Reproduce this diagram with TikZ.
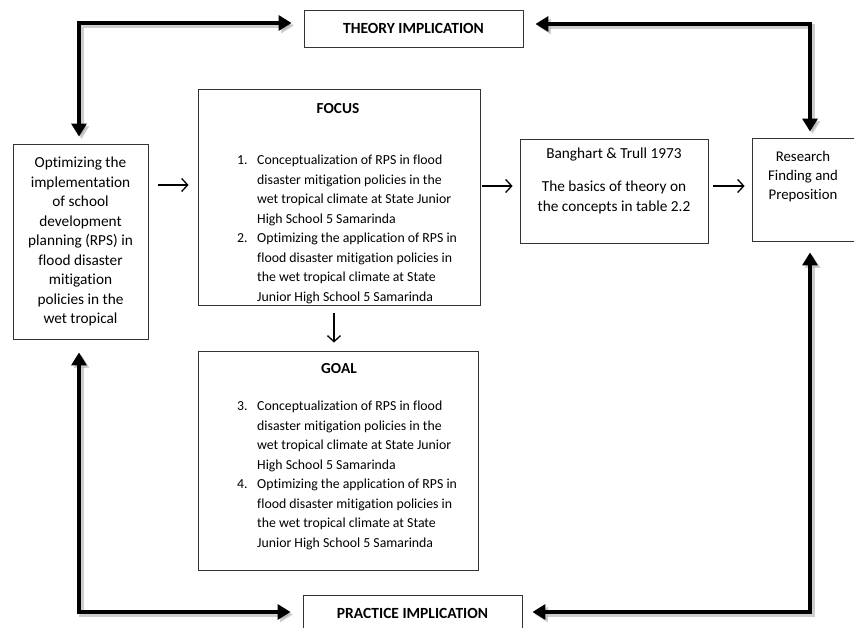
\documentclass[tikz,border=0pt]{standalone}
\usepackage{fontspec}
\setmainfont{Carlito}[Ligatures=NoCommon]
\usetikzlibrary{arrows.meta,calc}
\begin{document}
\begin{tikzpicture}[x=1pt,y=1pt,
  box/.style={draw=black!80,line width=0.9pt,inner sep=0pt,fill=white},
  txt/.style={inner sep=0pt,font=\fontsize{15.3}{19.5}\selectfont},
  list/.style={inner sep=0pt,font=\fontsize{13.8}{19.5}\selectfont},
  head/.style={inner sep=0pt,font=\fontsize{15.3}{19.5}\selectfont\bfseries},
  bigarrow/.style={line width=4pt,
    {Triangle[length=13pt,width=15pt]}-{Triangle[length=13pt,width=15pt]},
    preaction={draw=black!35,opacity=0.55,line width=5pt,
      transform canvas={shift={(2.5pt,-2.5pt)}}}},
  thinarrow/.style={line width=1.3pt,-{Straight Barb[length=6pt,width=13pt,line width=1.3pt]}}
]
\useasboundingbox (0,0) rectangle (854,628);
% boxes
\node[box,minimum width=219pt,minimum height=37pt] (theory) at (413.5,599.5) {};
\node[head,font=\fontsize{15.5}{18}\selectfont\bfseries] at (theory.center) {THEORY IMPLICATION};
\node[box,minimum width=135pt,minimum height=195pt] (left) at (80.5,386.5) {};
\node[box,minimum width=282pt,minimum height=216pt] (focus) at (339,431) {};
\node[box,minimum width=280pt,minimum height=219pt] (goal) at (338,167.5) {};
\node[box,minimum width=188pt,minimum height=104pt] (bang) at (614,437) {};
\node[box,minimum width=118pt,minimum height=103pt] (research) at (811,438.5) {};
\node[box,minimum width=219pt,minimum height=55pt] (practice) at (412.5,5.5) {};
\node[head,font=\fontsize{15.5}{18}\selectfont\bfseries] at (412.5,15) {PRACTICE IMPLICATION};
% texts
\node[txt,anchor=base] at (80.5,460) {\baselineskip=19.8pt\begin{tabular}[t]{@{}c@{}}
Optimizing the\\ implementation\\ of school\\ development\\ planning (RPS) in\\ flood disaster\\ mitigation\\ policies in the\\ wet tropical\end{tabular}};
\node[head,anchor=base] at (338,514) {FOCUS};
\node[list,anchor=base west] at (237,463) {\begin{tabular}[t]{@{}p{20pt}@{}l@{}}
1. & Conceptualization of RPS in flood\\
 & disaster mitigation policies in the\\
 & wet tropical climate at State Junior\\
 & High School 5 Samarinda\\
2. & Optimizing the application of RPS in\\
 & flood disaster mitigation policies in\\
 & the wet tropical climate at State\\
 & Junior High School 5 Samarinda\end{tabular}};
\node[head,anchor=base] at (339,254) {GOAL};
\node[list,anchor=base west] at (237,217) {\begin{tabular}[t]{@{}p{20pt}@{}l@{}}
3. & Conceptualization of RPS in flood\\
 & disaster mitigation policies in the\\
 & wet tropical climate at State Junior\\
 & High School 5 Samarinda\\
4. & Optimizing the application of RPS in\\
 & flood disaster mitigation policies in\\
 & the wet tropical climate at State\\
 & Junior High School 5 Samarinda\end{tabular}};
\node[txt,anchor=base] at (614,469) {\begin{tabular}[t]{@{}c@{}}
Banghart \& Trull 1973\\[13.5pt] The basics of theory on\\ the concepts in table 2.2\end{tabular}};
\node[txt,anchor=base,font=\fontsize{14.8}{19}\selectfont] at (803,466) {\begin{tabular}[t]{@{}c@{}}
Research\\ Finding and\\ Preposition\end{tabular}};
% thick connectors
\draw[bigarrow] ([xshift=-1.5pt,yshift=7pt]left.north) |- ([xshift=-12pt,yshift=5.5pt]theory.west);
\draw[bigarrow] ([xshift=12pt,yshift=4.5pt]theory.east) -| ([xshift=-1pt,yshift=6pt]research.north);
\draw[bigarrow] ([xshift=-1.5pt,yshift=-13pt]left.south) |- ([xshift=-12pt,yshift=10.5pt]practice.west);
\draw[bigarrow] ([xshift=-1pt,yshift=-11pt]research.south) |- ([xshift=10pt,yshift=10.5pt]practice.east);
% thin connectors
\draw[thinarrow,shorten <=10pt,shorten >=9pt] (left.east |- 0,443) -- (focus.west |- 0,443);
\draw[thinarrow,shorten <=2pt,shorten >=7pt] (focus.east |- 0,442) -- (bang.west |- 0,442);
\draw[thinarrow,shorten <=5pt,shorten >=7pt] (bang.east |- 0,442) -- (research.west |- 0,442);
\draw[thinarrow,shorten <=8pt,shorten >=8pt] (focus.south -| 334,0) -- (goal.north -| 334,0);
\end{tikzpicture}
\end{document}
